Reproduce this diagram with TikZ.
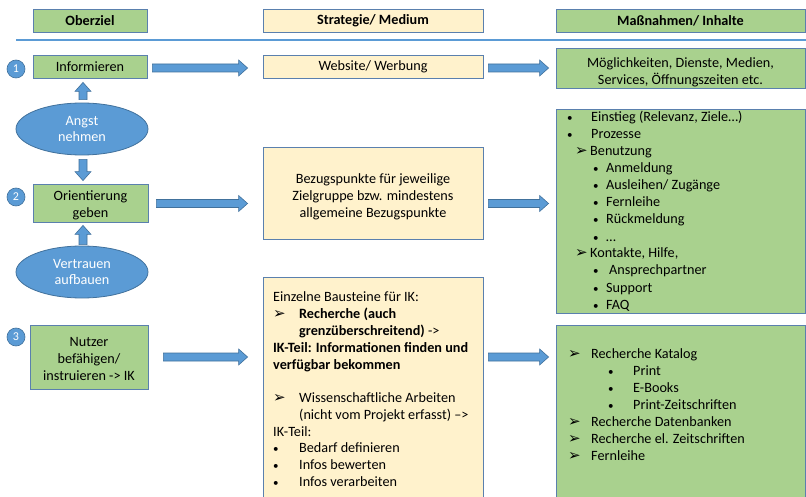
\documentclass[tikz,border=0pt]{standalone}
\usepackage{fontspec}
\setmainfont{Carlito}
\newfontfamily\dejavu{DejaVu Sans}
\usetikzlibrary{calc,shapes.geometric}

\definecolor{boxgreen}{HTML}{A9D18E}
\definecolor{boxyellow}{HTML}{FFF2CC}
\definecolor{edgeblue}{HTML}{5A80AE}
\definecolor{fillblue}{HTML}{5B9BD5}
\definecolor{darkblue}{HTML}{41719C}

% list markers
\newcommand\pfeil{{\dejavu\fontsize{15}{10}\selectfont ➢}}
\newcommand\punkt{{\fontsize{11}{10}\selectfont •}}

% horizontal block arrow: body at the y of #1, tip at the x of #2
\newcommand\rightblock[2]{%
  \draw[blk] let \p1=(#1), \p2=(#2) in
    (\x1,\y1+4pt) -- (\x2-9pt,\y1+4pt) -- (\x2-9pt,\y1+8pt) -- (\x2,\y1)
    -- (\x2-9pt,\y1-8pt) -- (\x2-9pt,\y1-4pt) -- (\x1,\y1-4pt) -- cycle;}
% vertical block arrows: body at the x of #1, tip at the y of #2
\newcommand\upblock[2]{%
  \draw[blk] let \p1=(#1), \p2=(#2) in
    (\x1-4pt,\y1) -- (\x1-4pt,\y2-9pt) -- (\x1-8pt,\y2-9pt) -- (\x1,\y2)
    -- (\x1+8pt,\y2-9pt) -- (\x1+4pt,\y2-9pt) -- (\x1+4pt,\y1) -- cycle;}
\newcommand\downblock[2]{%
  \draw[blk] let \p1=(#1), \p2=(#2) in
    (\x1-4pt,\y1) -- (\x1-4pt,\y2+9pt) -- (\x1-8pt,\y2+9pt) -- (\x1,\y2)
    -- (\x1+8pt,\y2+9pt) -- (\x1+4pt,\y2+9pt) -- (\x1+4pt,\y1) -- cycle;}

\tikzset{
  boxbase/.style={draw=edgeblue, line width=0.8pt, inner sep=0pt, align=center,
    font=\fontsize{14.2}{17}\selectfont},
  greenbox/.style={boxbase, fill=boxgreen},
  yellowbox/.style={boxbase, fill=boxyellow},
  headfont/.style={font=\fontsize{14.2}{16}\selectfont\bfseries},
  bubble/.style={ellipse, draw=darkblue, line width=0.8pt, fill=fillblue, text=white,
    inner sep=0pt, align=center, font=\fontsize{14.2}{16.5}\selectfont},
  numdot/.style={circle, draw=darkblue, line width=0.6pt, fill=fillblue, text=white,
    minimum size=18pt, inner sep=0pt, font=\fontsize{12}{12}\selectfont},
  blk/.style={fill=fillblue, draw=darkblue, line width=0.6pt, line join=miter},
  boxtext/.style={inner sep=0pt, align=center, font=\fontsize{14.2}{17}\selectfont},
  listline/.style={anchor=base west, inner sep=0pt, font=\fontsize{14.2}{17}\selectfont},
}

\begin{document}
\begin{tikzpicture}[x=1pt, y=-1pt]
\clip (0,0) rectangle (806,497);
\fill[white] (0,0) rectangle (806,497);

% column headers
\node[greenbox, headfont, minimum width=114pt, minimum height=23pt] (hober) at (90,20.5) {Oberziel};
\node[yellowbox, headfont, minimum width=220pt, minimum height=23pt] (hstrat) at (373,20.5) {Strategie/ Medium};
\node[greenbox, headfont, minimum width=249pt, minimum height=23pt] (hmass) at (680.5,20.5) {Maßnahmen/ Inhalte};
\draw[fillblue, line width=1.4pt] (16,40) -- (806,40);

% row 1
\node[numdot] (n1) at (16,69) {1};
\node[greenbox, minimum width=114pt, minimum height=23pt] (inf) at (90,66.5) {Informieren};
\node[yellowbox, minimum width=220pt, minimum height=23pt] (web) at (373,66.5) {Website/ Werbung};
\node[greenbox, minimum width=249pt, minimum height=40pt] (moeg) at (680.5,68.5) {};
\node[boxtext] (moegtext) at (680.5,72) {Möglichkeiten, Dienste, Medien,\\ Services, Öffnungszeiten etc.};

% row 2
\node[bubble, minimum width=132pt, minimum height=52pt] (angst) at (82,129) {Angst\\ nehmen};
\node[numdot] (n2) at (16,197) {2};
\node[greenbox, minimum width=115pt, minimum height=38pt] (orient) at (90.5,203) {};
\node[boxtext] (orienttext) at (90.5,205) {Orientierung\\ geben};
\node[bubble, minimum width=132pt, minimum height=52pt] (vertr) at (82,272) {Vertrauen\\ aufbauen};
\node[yellowbox, minimum width=220pt, minimum height=92pt] (bez) at (373,193) {};
\node[boxtext] (beztext) at (373,196.5)
  {Bezugspunkte für jeweilige\\ Zielgruppe bzw. mindestens\\ allgemeine Bezugspunkte};
\node[greenbox, minimum width=249pt, minimum height=204pt] (ein) at (680.5,211) {};

% row 3
\node[numdot] (n3) at (16,337) {3};
\node[greenbox, minimum width=118pt, minimum height=64pt] (nutzer) at (89,357) {};
\node[boxtext] (nutzertext) at (89,359) {Nutzer\\ befähigen/\\ instruieren -> IK};
\node[yellowbox, minimum width=220pt, minimum height=243pt] (einz) at (373,398.5) {};
\node[greenbox, minimum width=249pt, minimum height=195pt] (rech) at (680.5,422.5) {};

% contents of the list boxes
\node[listline] (e1) at (567,122) {\makebox[24pt][l]{\punkt}Einstieg (Relevanz, Ziele…)};
\node[listline] (e2) at (567,139) {\makebox[24pt][l]{\punkt}Prozesse};
\node[listline] (e3) at (575,156) {\makebox[15pt][l]{\pfeil}Benutzung};
\node[listline] (e4) at (593,173) {\makebox[13pt][l]{\punkt}Anmeldung};
\node[listline] (e5) at (593,190) {\makebox[13pt][l]{\punkt}Ausleihen/ Zugänge};
\node[listline] (e6) at (593,207) {\makebox[13pt][l]{\punkt}Fernleihe};
\node[listline] (e7) at (593,224) {\makebox[13pt][l]{\punkt}Rückmeldung};
\node[listline] (e8) at (593,241) {\makebox[13pt][l]{\punkt}…};
\node[listline] (e9) at (575,258) {\makebox[15pt][l]{\pfeil}Kontakte, Hilfe,};
\node[listline] (e10) at (593,275) {\makebox[16pt][l]{\punkt}Ansprechpartner};
\node[listline] (e11) at (593,292) {\makebox[13pt][l]{\punkt}Support};
\node[listline] (e12) at (593,309) {\makebox[13pt][l]{\punkt}FAQ};

\node[listline] (z1) at (273,301) {Einzelne Bausteine für IK:};
\node[listline] (z2) at (273,318) {\makebox[26pt][l]{\pfeil}\textbf{Recherche (auch}};
\node[listline] (z3) at (299,335) {\textbf{grenzüberschreitend)} ->};
\node[listline] (z4) at (273,352) {\textbf{IK-Teil: Informationen finden und}};
\node[listline] (z5) at (273,369) {\textbf{verfügbar bekommen}};
\node[listline] (z6) at (273,402) {\makebox[26pt][l]{\pfeil}Wissenschaftliche Arbeiten};
\node[listline] (z7) at (299,419) {(nicht vom Projekt erfasst) –>};
\node[listline] (z8) at (273,436) {IK-Teil:};
\node[listline] (z9) at (273,452) {\makebox[26pt][l]{\punkt}Bedarf definieren};
\node[listline] (z10) at (273,469) {\makebox[26pt][l]{\punkt}Infos bewerten};
\node[listline] (z11) at (273,486) {\makebox[26pt][l]{\punkt}Infos verarbeiten};

\node[listline] (r1) at (568,358) {\makebox[23pt][l]{\pfeil}Recherche Katalog};
\node[listline] (r2) at (608,375) {\makebox[25pt][l]{\punkt}Print};
\node[listline] (r3) at (608,392) {\makebox[25pt][l]{\punkt}E-Books};
\node[listline] (r4) at (608,409) {\makebox[25pt][l]{\punkt}Print-Zeitschriften};
\node[listline] (r5) at (568,426) {\makebox[23pt][l]{\pfeil}Recherche Datenbanken};
\node[listline] (r6) at (568,443) {\makebox[23pt][l]{\pfeil}Recherche el. Zeitschriften};
\node[listline] (r7) at (568,460) {\makebox[23pt][l]{\pfeil}Fernleihe};

% block arrows
\rightblock{$(inf.east)+(5,1.5)$}{$(web.west)+(-15,0)$}
\rightblock{$(web.east)+(5,1.5)$}{$(moeg.west)+(-7,0)$}
\rightblock{$(orient.east)+(8,0.5)$}{$(bez.west)+(-15,0)$}
\rightblock{$(bez.east |- orient.east)+(5,0.5)$}{$(ein.west)+(-7,0)$}
\rightblock{$(nutzer.east)+(15,0)$}{$(einz.west)+(-15,0)$}
\rightblock{$(einz.east |- nutzer.east)+(5,0)$}{$(rech.west)+(-7,0)$}
\upblock{$(angst.north)+(1,-3)$}{$(inf.south)+(0,4)$}
\downblock{$(angst.south)+(1,4)$}{$(orient.north)+(0,-3)$}
\upblock{$(vertr.north)+(1,-1)$}{$(orient.south)+(0,3)$}
\end{tikzpicture}
\end{document}
